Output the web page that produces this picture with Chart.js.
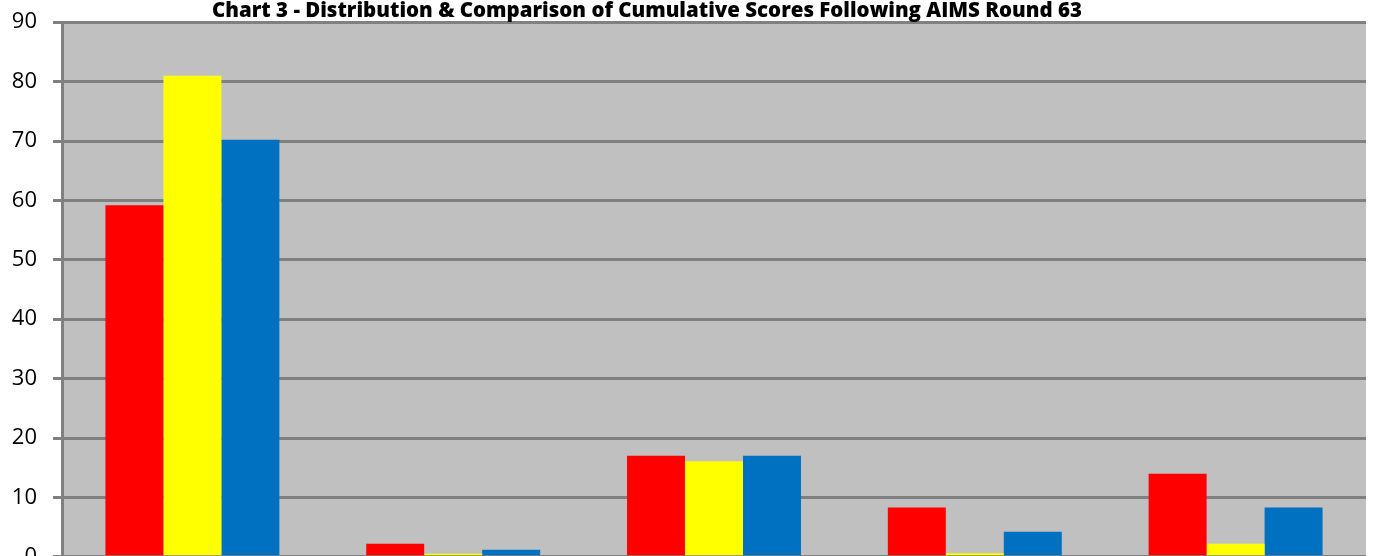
<!DOCTYPE html>
<html><head><meta charset="utf-8">
<script src="https://cdn.jsdelivr.net/npm/chart.js@4/dist/chart.umd.min.js"></script>
<style>html,body{margin:0;padding:0;background:#fff;overflow:hidden;height:556px}#wrap{width:1374px;height:593px;position:relative;margin-top:-7px}</style>
</head><body><div id="wrap"><canvas id="c"></canvas></div>
<script>
const titleText = "Chart 3 - Distribution & Comparison of Cumulative Scores Following AIMS Round 63";
const categories = ["Group 1", "Group 2", "Group 3", "Group 4", "Group 5"];
const seriesNames = ["Series 1", "Series 2", "Series 3"];
const redValues = [59.2, 2.2, 17.0, 8.3, 14.0];
const yellowValues = [81.0, 0.5, 16.1, 0.6, 2.2];
const blueValues = [70.2, 1.2, 17.0, 4.2, 8.3];
const yTicks = [0, 10, 20, 30, 40, 50, 60, 70, 80, 90];

const plotBg = {
  id: 'plotBg',
  beforeDraw(chart) {
    const {ctx, chartArea: a} = chart;
    ctx.save(); ctx.fillStyle = '#C0C0C0';
    ctx.fillRect(a.left, a.top, a.right - a.left, a.bottom - a.top);
    ctx.restore();
  }
};
const titlePlugin = {
  id: 'titlePlugin',
  afterDraw(chart) {
    const ctx = chart.ctx;
    ctx.save();
    ctx.font = '800 21px "Open Sans", "DejaVu Sans", sans-serif';
    ctx.fillStyle = '#000';
    ctx.textBaseline = 'alphabetic';
    const w = ctx.measureText(titleText).width;
    const target = 870, left = 212;
    ctx.translate(left, 24);
    ctx.scale(target / w, 1);
    ctx.fillText(titleText, 0, 0);
    ctx.restore();
  }
};

new Chart(document.getElementById('c'), {
  type: 'bar',
  data: {
    labels: categories,
    datasets: [
      {label: seriesNames[0], data: redValues, backgroundColor: '#FF0000'},
      {label: seriesNames[1], data: yellowValues, backgroundColor: '#FFFF00'},
      {label: seriesNames[2], data: blueValues, backgroundColor: '#0070C0'}
    ]
  },
  options: {
    responsive: true, maintainAspectRatio: false, animation: false,
    layout: {padding: {top: 16, right: 8, bottom: 1, left: 0}},
    datasets: {bar: {categoryPercentage: 0.667, barPercentage: 1.0, borderWidth: 0}},
    plugins: {legend: {display: false}, title: {display: false}, tooltip: {enabled: false}},
    scales: {
      x: {display: false, grid: {display: false}},
      y: {
        min: 0, max: 90,
        afterFit(scale) { scale.width = 62; },
        afterBuildTicks(scale) { scale.ticks = yTicks.map(v => ({value: v})); },
        border: {display: true, color: '#808080', width: 3},
        grid: {color: '#808080', lineWidth: 3, tickLength: 9, drawTicks: true},
        ticks: {color: '#000', padding: 16, font: {family: '"Open Sans", "Noto Sans", sans-serif', size: 22}}
      }
    }
  },
  plugins: [plotBg, titlePlugin]
});
</script></body></html>
